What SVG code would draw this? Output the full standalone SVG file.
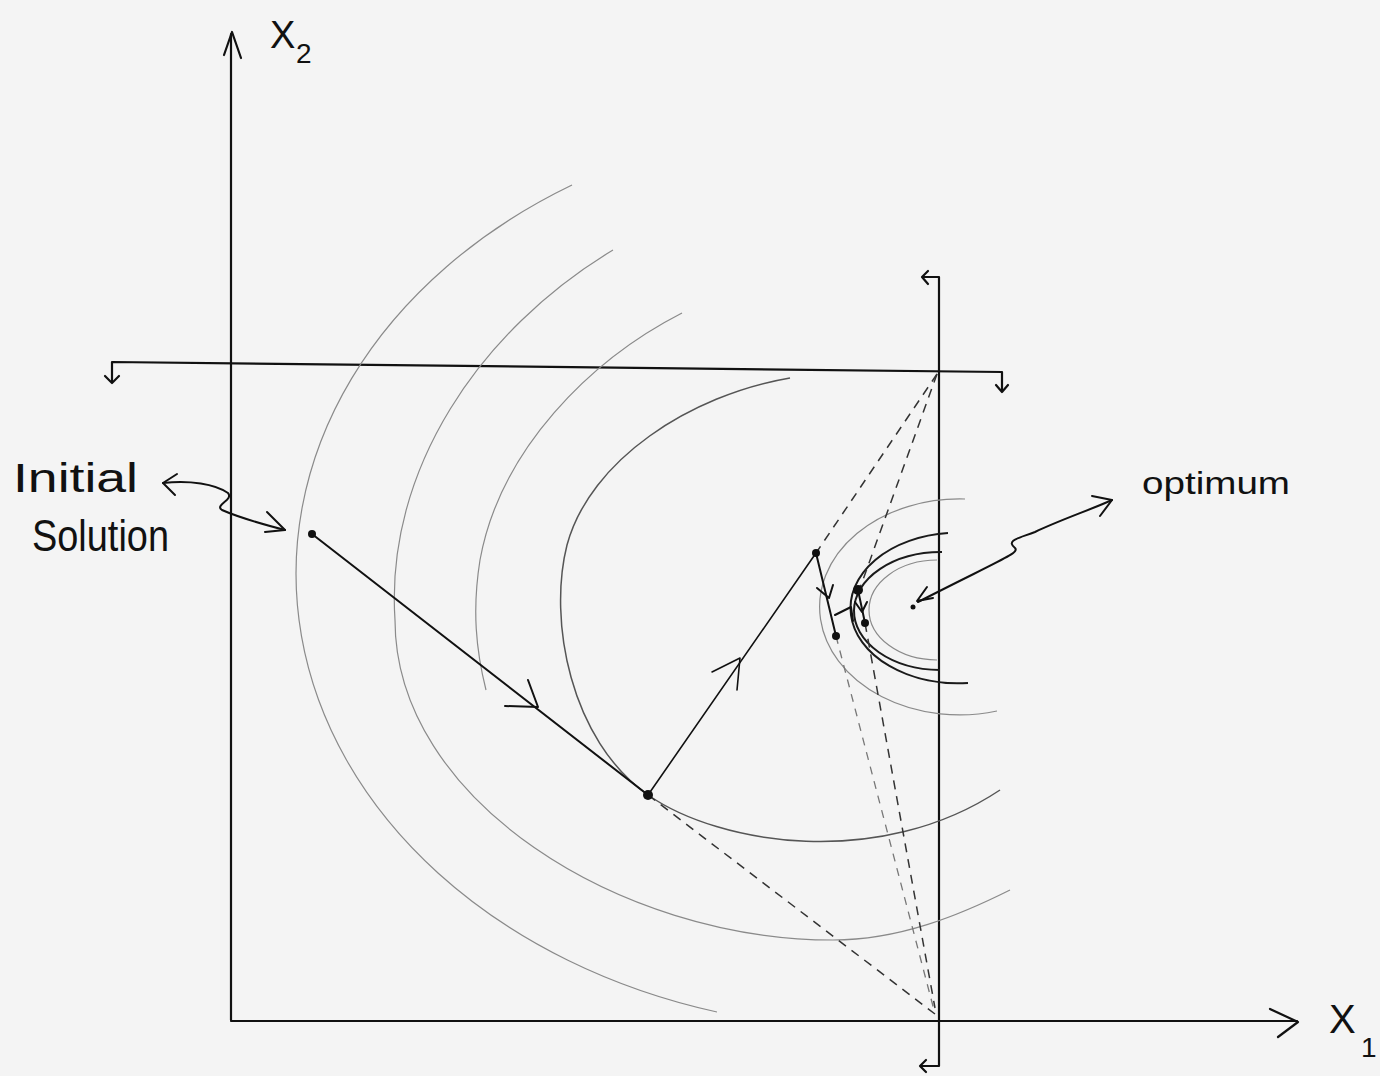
<svg xmlns="http://www.w3.org/2000/svg" width="1380" height="1076" viewBox="0 0 1380 1076">
<style>
.ax{stroke:#111;stroke-width:2.2;fill:none;stroke-linecap:round;stroke-linejoin:round}
.ln{stroke:#111;stroke-width:2;fill:none;stroke-linecap:round;stroke-linejoin:round}
.thin{stroke:#111;stroke-width:1.6;fill:none;stroke-linecap:round;stroke-linejoin:round}
.arcL{stroke:#8a8a8a;stroke-width:1.2;fill:none}
.arcM{stroke:#555;stroke-width:1.5;fill:none}
.arcB{stroke:#1a1a1a;stroke-width:2;fill:none}
.dash{stroke:#333;stroke-width:1.5;fill:none;stroke-dasharray:9 7}
.dashL{stroke:#777;stroke-width:1.3;fill:none;stroke-dasharray:8 7}
.txt{font-family:"Liberation Sans",Arial,sans-serif;fill:#111}
.dot{fill:#111}
</style>
<rect width="1380" height="1076" fill="#f4f4f4"/>
<g id="axes">
<path class="ax" d="M231,1020 V34"/>
<path class="ax" d="M224,55 L232,32 L241,58"/>
<path class="ax" d="M231,1021 H1297"/>
<path class="ax" d="M1270,1009 L1298,1022 L1278,1037"/>
</g>
<g id="constraints">
<path class="ax" d="M112,382 V362 L1002,372 V391"/>
<path class="ax" d="M105,376 L112,383 L119,376"/>
<path class="ax" d="M996,385 L1002,392 L1008,385"/>
<path class="ax" d="M923,277 H939 V1066 H921"/>
<path class="ax" d="M928,271 L922,277 L928,284"/>
<path class="ax" d="M926,1060 L920,1066 L926,1072"/>
</g>
<g id="contours">
<path class="arcL" d="M572,185 A575,455 0 0 0 717,1012"/>
<path class="arcL" d="M613,250 C480,330 385,470 395,620 C395,800 620,940 833,940 C900,940 960,915 1010,890"/>
<path class="arcL" d="M682,313 C590,360 500,450 480,560 C472,610 476,650 486,690"/>
<path class="arcM" d="M790,378 C690,395 590,460 567,545 C548,620 570,740 648,795 C720,845 880,870 1000,790"/>
<path class="arcL" d="M965,499 A140,108 0 1 0 997,711"/>
<path class="arcB" d="M948,533 A107,75 0 1 0 968,683"/>
<path class="arcB" d="M942,552 A87,59 0 1 0 940,670"/>
<path class="arcL" d="M937,560 A68,50 0 1 0 937,660"/>
</g>
<g id="connectors">
<path class="dash" d="M937,374 L816,553"/>
<path class="dash" d="M937,374 L860,588"/>
<path class="dash" d="M648,795 L935,1014"/>
<path class="dashL" d="M836,636 L934,1010"/>
<path class="dash" d="M865,623 L935,1008"/>
<path class="ln" d="M312,534 L648,795"/>
<path class="ln" d="M528,680 L538,707 L505,706"/>
<path class="thin" d="M648,795 L816,553"/>
<path class="thin" d="M712,672 L740,658 L737,690"/>
<path class="ln" d="M816,553 L836,636"/>
<path class="ln" d="M817,588 L829,598 L833,585"/>
<path class="ln" d="M835,615 L851,607 L853,621"/>
<path class="ln" d="M858,590 L865,623"/>
<path class="ln" d="M855,602 L862,612 L867,602"/>
<path class="ln" d="M1112,500 C1090,510 1060,520 1035,532 C1020,538 1005,540 1015,548 C1020,553 1000,560 918,602"/>
<path class="ln" d="M1092,496 L1112,500 L1100,516"/>
<path class="ln" d="M927,587 L917,601 L933,598"/>
<path class="ln" d="M163,483 C190,480 215,484 228,493 C234,500 214,505 222,510 C240,518 262,524 285,530"/>
<path class="ln" d="M177,474 L163,483 L175,495"/>
<path class="ln" d="M267,512 L285,530 L265,532"/>
</g>
<g id="points">
<circle class="dot" cx="312" cy="534" r="4"/>
<circle class="dot" cx="648" cy="795" r="5"/>
<circle class="dot" cx="816" cy="553" r="4"/>
<circle class="dot" cx="836" cy="636" r="4"/>
<circle class="dot" cx="858" cy="590" r="5"/>
<circle class="dot" cx="865" cy="623" r="4"/>
<circle class="dot" cx="913" cy="607" r="2.5"/>
</g>
<g id="labels">
<text class="txt" x="270" y="48" font-size="38">X</text>
<text class="txt" x="296" y="63" font-size="28">2</text>
<text class="txt" x="1329" y="1033" font-size="40">X</text>
<text class="txt" x="1361" y="1057" font-size="28">1</text>
<text class="txt" x="13" y="492" font-size="40" textLength="125" lengthAdjust="spacingAndGlyphs">Initial</text>
<text class="txt" x="32" y="551" font-size="44" textLength="137" lengthAdjust="spacingAndGlyphs">Solution</text>
<text class="txt" x="1142" y="494" font-size="32" textLength="148" lengthAdjust="spacingAndGlyphs">optimum</text>
</g>
</svg>
